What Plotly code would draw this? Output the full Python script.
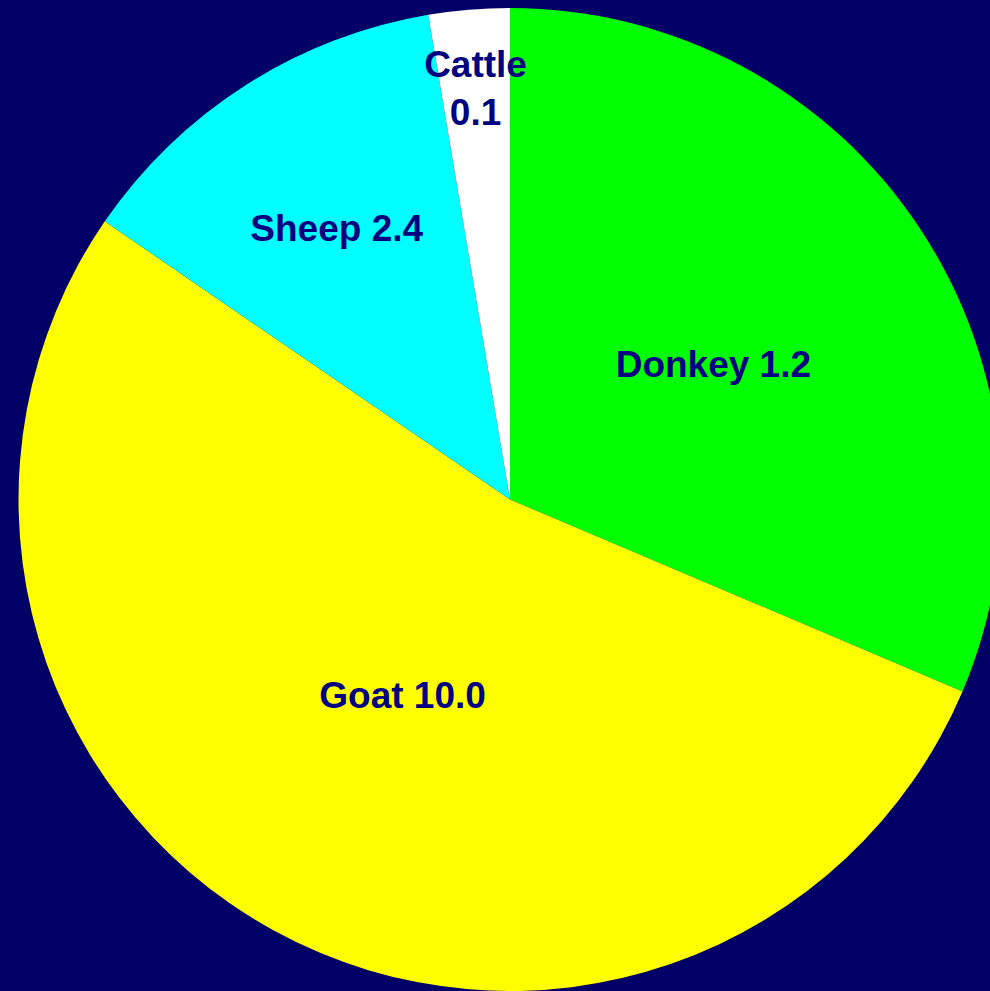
import plotly.graph_objects as go

# Livestock by species
species = ["Donkey", "Goat", "Sheep", "Cattle"]
# head count (millions) shown in the labels
heads = [1.2, 10.0, 2.4, 0.1]
# slice size: livestock units (sheep equivalents)
livestock_units = [5.9, 10.0, 2.4, 0.5]
label_sep = [" ", " ", " ", "<br>"]
colors = ["#00FF00", "#FFFF00", "#00FFFF", "#FFFFFF"]

texts = [f"{s}{sep}{h:.1f}" for s, sep, h in zip(species, label_sep, heads)]

W, H = 1010, 991
cx, cy, r = 510, 499.5, 491.5


def clamp(v):
    return min(1.0, max(0.0, v))


def domain(radius):
    return dict(
        x=[clamp((cx - radius) / W), clamp((cx + radius) / W)],
        y=[clamp((H - cy - radius) / H), clamp((H - cy + radius) / H)],
    )


common = dict(
    labels=species,
    values=livestock_units,
    sort=False,
    direction="clockwise",
    rotation=0,
    showlegend=False,
)

fig = go.Figure()
# coloured slices
fig.add_trace(go.Pie(
    **common,
    textinfo="none",
    marker=dict(colors=colors, line=dict(width=0)),
    domain=domain(r),
    hoverinfo="label+value",
))
# slice labels, set on an inner ring so they sit nearer the centre
fig.add_trace(go.Pie(
    **common,
    text=texts,
    textinfo="text",
    textposition="inside",
    insidetextorientation="horizontal",
    marker=dict(colors=["rgba(0,0,0,0)"] * len(species), line=dict(width=0)),
    textfont=dict(family="Liberation Sans", size=37, color="#000080", weight="bold"),
    domain=domain(0.91 * r),
    hoverinfo="skip",
))
fig.update_layout(
    width=W,
    height=H,
    autosize=False,
    margin=dict(l=0, r=0, t=0, b=0, pad=0),
    paper_bgcolor="#000066",
    plot_bgcolor="#000066",
    uniformtext=dict(minsize=37, mode="show"),
    showlegend=False,
)
fig.write_html("out.html")
